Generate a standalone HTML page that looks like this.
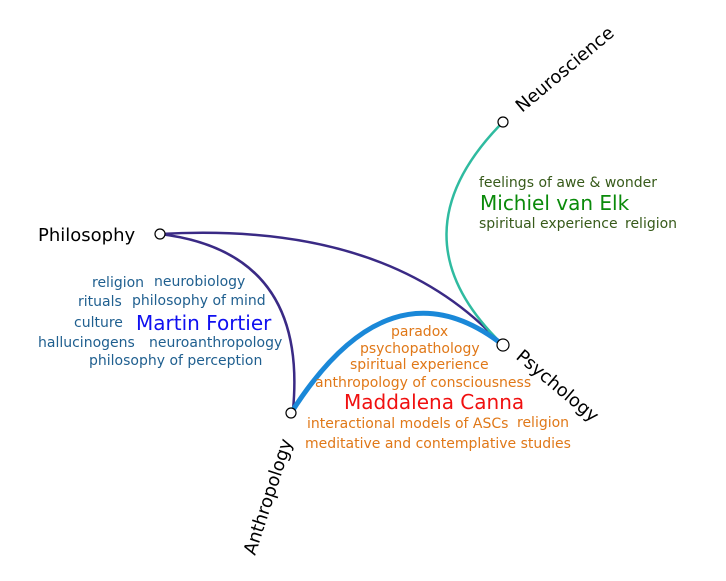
<!DOCTYPE html>
<html><head><style>body{margin:0;background:#fff}svg{display:block}text{font-family:"DejaVu Sans",sans-serif}</style></head>
<body>
<svg width="726" height="581" viewBox="0 0 726 581">
<path d="M160,234 Q308,252 293,410" fill="none" stroke="#3a2a85" stroke-width="2.5"/>
<path d="M160,234 Q388,221 500,343" fill="none" stroke="#3a2a85" stroke-width="2.5"/>
<path d="M503,122 Q391,235 501,343" fill="none" stroke="#2fbba0" stroke-width="2.5"/>
<path d="M291,413 Q390,257 503,345" fill="none" stroke="#1a88d8" stroke-width="5"/>
<g fill="#fff" stroke="#000" stroke-width="1.2">
<circle cx="160" cy="234" r="5"/><circle cx="503" cy="122" r="5"/><circle cx="503" cy="345" r="6"/><circle cx="291" cy="413" r="5"/>
</g>
<g font-size="18" fill="#000">
<text x="38" y="241">Philosophy</text>
<text transform="translate(522,113) rotate(-40)">Neuroscience</text>
<text transform="translate(515,358) rotate(40)">Psychology</text>
<text transform="translate(255,556) rotate(-72)">Anthropology</text>
</g>
<g font-size="14" fill="#375a1a">
<text x="479" y="187">feelings of awe &amp; wonder</text>
<text x="479" y="228">spiritual experience</text><text x="625" y="228">religion</text>
</g>
<text x="480" y="210" font-size="20" fill="#0a8a0a">Michiel van Elk</text>
<g font-size="14" fill="#1f5f8f">
<text x="92" y="287">religion</text><text x="154" y="286">neurobiology</text>
<text x="78" y="306">rituals</text><text x="132" y="305">philosophy of mind</text>
<text x="74" y="327">culture</text>
<text x="38" y="347">hallucinogens</text><text x="149" y="347">neuroanthropology</text>
<text x="89" y="365">philosophy of perception</text>
</g>
<text x="136" y="330" font-size="20" fill="#1010f0">Martin Fortier</text>
<g font-size="14" fill="#e07818">
<text x="391" y="336">paradox</text>
<text x="360" y="353">psychopathology</text>
<text x="350" y="369">spiritual experience</text>
<text x="315" y="387">anthropology of consciousness</text>
<text x="307" y="428">interactional models of ASCs</text><text x="517" y="427">religion</text>
<text x="305" y="448">meditative and contemplative studies</text>
</g>
<text x="344" y="409" font-size="20" fill="#f01010">Maddalena Canna</text>
</svg>
</body></html>
